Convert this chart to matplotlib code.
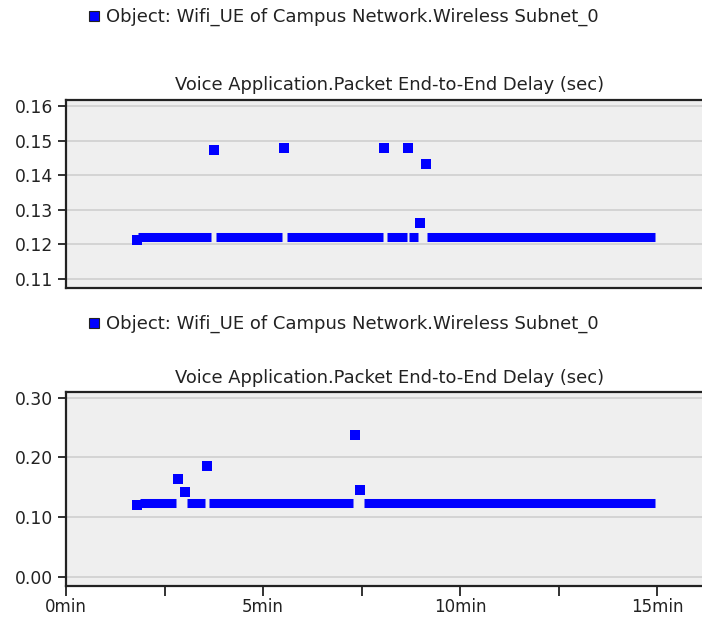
import matplotlib
matplotlib.use("Agg")
import matplotlib.pyplot as plt
from matplotlib.lines import Line2D
from matplotlib.ticker import MultipleLocator, FormatStrFormatter, FuncFormatter

# series name and chart title
series_label = "Object: Wifi_UE of Campus Network.Wireless Subnet_0"
chart_title = "Voice Application.Packet End-to-End Delay (sec)"

# top panel: dense runs of samples (start min, end min, delay sec) and single points
top_run_start = [1.83, 3.81, 5.61, 8.15, 8.71, 9.16]
top_run_end = [3.68, 5.48, 8.05, 8.65, 8.93, 14.95]
top_run_value = [0.1220, 0.1220, 0.1220, 0.1220, 0.1220, 0.1220]
top_pts_x = [1.79, 3.76, 5.52, 8.07, 8.67, 9.14, 8.99]
top_pts_y = [0.1213, 0.1474, 0.1479, 0.1479, 0.1479, 0.1431, 0.1263]
top_yticks = [0.11, 0.12, 0.13, 0.14, 0.15, 0.16]

# bottom panel
bot_run_start = [1.88, 3.06, 3.64, 7.55]
bot_run_end = [2.79, 3.53, 7.28, 14.95]
bot_run_value = [0.124, 0.124, 0.124, 0.124]
bot_pts_x = [1.79, 2.83, 3.02, 3.57, 7.33, 7.46]
bot_pts_y = [0.120, 0.1636, 0.1413, 0.186, 0.237, 0.146]
bot_yticks = [0.00, 0.10, 0.20, 0.30]

x_major = [0, 5, 10, 15]

W, H = 702, 617
BLUE = "#0000ff"


def style_axes(ax, yticks, ylim):
    ax.set_facecolor("#efefef")
    ax.set_xlim(0, 16.14)
    ax.set_ylim(*ylim)
    ax.set_yticks(yticks)
    ax.yaxis.set_major_formatter(FormatStrFormatter("%.2f"))
    ax.grid(axis="y", color="#d2d2d2", linewidth=1.3)
    ax.set_axisbelow(True)
    for s in ["top", "bottom", "left"]:
        ax.spines[s].set_color("#222222")
        ax.spines[s].set_linewidth(1.6)
    ax.spines["right"].set_visible(False)
    ax.tick_params(axis="y", direction="out", length=6, width=1.3,
                   labelsize=12.3, pad=3, colors="#222222")


def draw(ax, rs, re, rv, px, py):
    ax.hlines(rv, rs, re, color=BLUE, linewidth=6.5, capstyle="butt", zorder=3)
    ax.plot(px, py, ls="none", marker="s", ms=6.5, color=BLUE, mew=0, zorder=4)


fig = plt.figure(figsize=(W / 100, H / 100), dpi=100)
ax1 = fig.add_axes([66 / W, 1 - 288 / H, 1 - 66 / W, (288 - 100) / H])
ax2 = fig.add_axes([66 / W, 1 - 586 / H, 1 - 66 / W, (586 - 392) / H])

style_axes(ax1, top_yticks, (0.1074, 0.1617))
style_axes(ax2, bot_yticks, (-0.0156, 0.3095))

draw(ax1, top_run_start, top_run_end, top_run_value, top_pts_x, top_pts_y)
draw(ax2, bot_run_start, bot_run_end, bot_run_value, bot_pts_x, bot_pts_y)

ax1.tick_params(axis="x", bottom=False, labelbottom=False)
ax2.set_xticks(x_major)
ax2.xaxis.set_minor_locator(MultipleLocator(2.5))
ax2.xaxis.set_major_formatter(FuncFormatter(lambda v, p: "%dmin" % v))
ax2.tick_params(axis="x", which="both", direction="out", length=7, width=1.3,
                labelsize=12, colors="#222222", pad=2)

handle = Line2D([], [], ls="none", marker="s", ms=7.5, mfc=BLUE, mec="#222222", mew=0.8)
for ax, ly, ty in [(ax1, 17, 85), (ax2, 324, 378)]:
    ax.legend([handle], [series_label], loc="center left",
              bbox_to_anchor=(88 / W, 1 - ly / H), bbox_transform=fig.transFigure,
              frameon=False, borderpad=0, borderaxespad=0, handlelength=0.7,
              handletextpad=0.3, fontsize=13, labelcolor="#222222")
    fig.text(390 / W, 1 - ty / H, chart_title, ha="center", va="center",
             fontsize=12.9, color="#222222")

fig.savefig("out.png", dpi=100)
